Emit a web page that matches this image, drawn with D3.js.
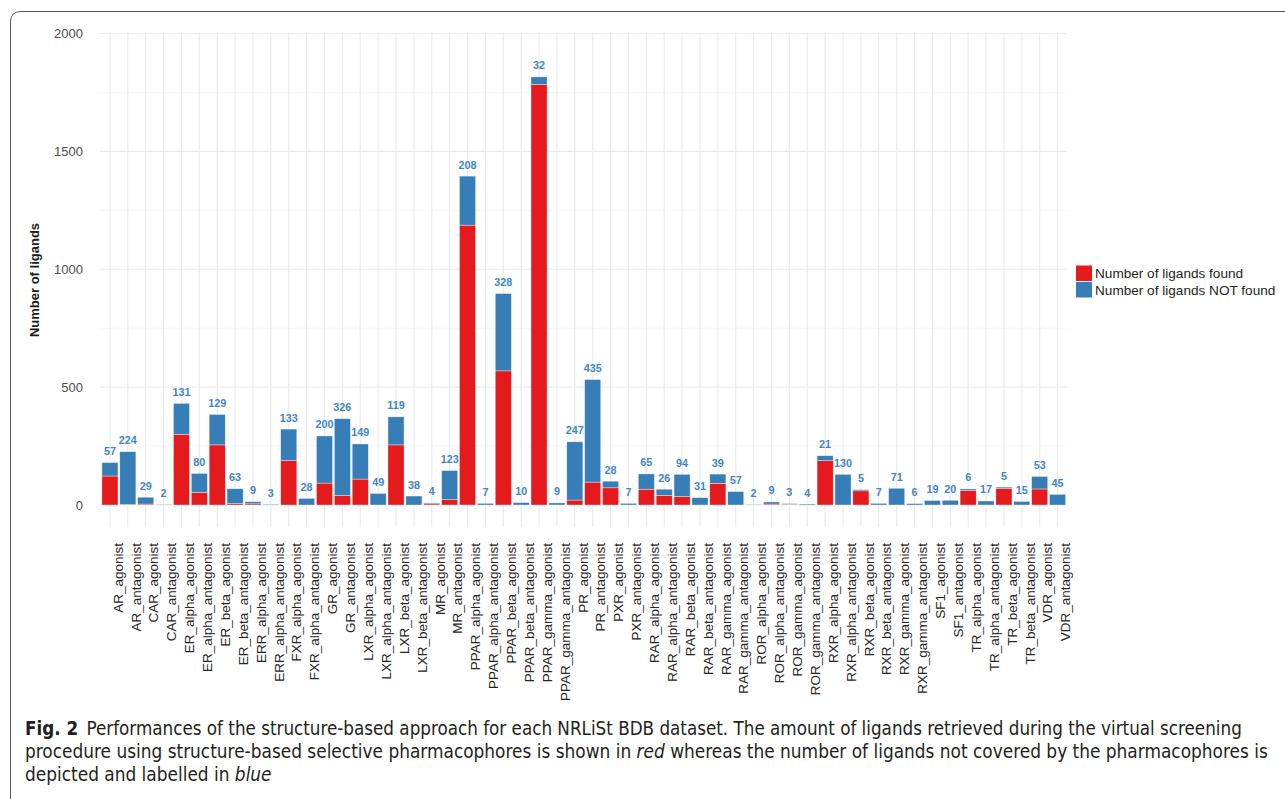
<!DOCTYPE html>
<html>
<head>
<meta charset="utf-8">
<script src="https://cdn.jsdelivr.net/npm/d3@7"></script>
<style>
  html, body { margin: 0; padding: 0; background: #fff; }
  svg { display: block; }
</style>
</head>
<body>
<svg id="chart" width="1285" height="799"></svg>
<script>
// NRLiSt BDB datasets
const categories = [
  "AR_agonist", "AR_antagonist", "CAR_agonist", "CAR_antagonist",
  "ER_alpha_agonist", "ER_alpha_antagonist", "ER_beta_agonist", "ER_beta_antagonist",
  "ERR_alpha_agonist", "ERR_alpha_antagonist", "FXR_alpha_agonist", "FXR_alpha_antagonist",
  "GR_agonist", "GR_antagonist", "LXR_alpha_agonist", "LXR_alpha_antagonist",
  "LXR_beta_agonist", "LXR_beta_antagonist", "MR_agonist", "MR_antagonist",
  "PPAR_alpha_agonist", "PPAR_alpha_antagonist", "PPAR_beta_agonist", "PPAR_beta_antagonist",
  "PPAR_gamma_agonist", "PPAR_gamma_antagonist", "PR_agonist", "PR_antagonist",
  "PXR_agonist", "PXR_antagonist", "RAR_alpha_agonist", "RAR_alpha_antagonist",
  "RAR_beta_agonist", "RAR_beta_antagonist", "RAR_gamma_agonist", "RAR_gamma_antagonist",
  "ROR_alpha_agonist", "ROR_alpha_antagonist", "ROR_gamma_agonist", "ROR_gamma_antagonist",
  "RXR_alpha_agonist", "RXR_alpha_antagonist", "RXR_beta_agonist", "RXR_beta_antagonist",
  "RXR_gamma_agonist", "RXR_gamma_antagonist", "SF1_agonist", "SF1_antagonist",
  "TR_alpha_agonist", "TR_alpha_antagonist", "TR_beta_agonist", "TR_beta_antagonist",
  "VDR_agonist", "VDR_antagonist"
];

// Ligands retrieved by the structure-based pharmacophores
const foundValues = [
  123, 2, 4, 0,
  300, 54, 255, 6,
  5, 0, 189, 0,
  93, 40, 110, 0,
  255, 0, 5, 23,
  1187, 0, 569, 0,
  1784, 0, 21, 97,
  73, 0, 67, 41,
  36, 0, 92, 0,
  0, 4, 3, 0,
  188, 0, 60, 0,
  0, 0, 0, 0,
  62, 0, 71, 0,
  68, 0
];

// Ligands not covered by the pharmacophores
const notFoundValues = [
  57, 224, 29, 2,
  131, 80, 129, 63,
  9, 3, 133, 28,
  200, 326, 149, 49,
  119, 38, 4, 123,
  208, 7, 328, 10,
  32, 9, 247, 435,
  28, 7, 65, 26,
  94, 31, 39, 57,
  2, 9, 3, 4,
  21, 130, 5, 7,
  71, 6, 19, 20,
  6, 17, 5, 15,
  53, 45
];

const yTicks = [0, 500, 1000, 1500, 2000];
const yMinorTicks = [250, 750, 1250, 1750];

const seriesNames = ["Number of ligands found", "Number of ligands NOT found"];
const seriesColors = ["#e41a1c", "#377eb8"];

const rows = categories.map((c, i) => ({
  name: c,
  found: foundValues[i],
  notFound: notFoundValues[i]
}));

const svg = d3.select("#chart");
const sans = "'Liberation Sans', Arial, sans-serif";

// Figure frame with rounded corner
svg.append("path")
  .attr("d", "M10.5,800 L10.5,22 Q10.5,11.5 21,11.5 L1290,11.5")
  .attr("fill", "none")
  .attr("stroke", "#555")
  .attr("stroke-width", 1);

const panel = { left: 100, right: 1066.5, top: 32, bottom: 527 };

const x = d3.scaleBand()
  .domain(categories)
  .range([101, 1066.5])
  .paddingInner(0.1)
  .paddingOuter(0.05);

const y = d3.scaleLinear()
  .domain([0, 2000])
  .range([505, 33.5]);

const g = svg.append("g");

// Grid: minor horizontal, major horizontal, vertical at each category
g.selectAll("line.minor")
  .data(yMinorTicks)
  .join("line")
  .attr("x1", panel.left).attr("x2", panel.right)
  .attr("y1", d => y(d)).attr("y2", d => y(d))
  .attr("stroke", "#f2f2f2").attr("stroke-width", 0.8);

g.selectAll("line.major")
  .data(yTicks)
  .join("line")
  .attr("x1", panel.left).attr("x2", panel.right)
  .attr("y1", d => y(d)).attr("y2", d => y(d))
  .attr("stroke", "#ebebeb").attr("stroke-width", 1.2);

g.selectAll("line.vgrid")
  .data(categories)
  .join("line")
  .attr("x1", d => x(d) + x.bandwidth() / 2)
  .attr("x2", d => x(d) + x.bandwidth() / 2)
  .attr("y1", panel.top).attr("y2", panel.bottom)
  .attr("stroke", "#ebebeb").attr("stroke-width", 1.2);

// Stacked bars
const stack = d3.stack().keys(["found", "notFound"]);
const layers = stack(rows);

g.selectAll("g.layer")
  .data(layers)
  .join("g")
  .attr("fill", (d, i) => seriesColors[i])
  .selectAll("rect")
  .data(d => d.filter(s => s[1] - s[0] > 0))
  .join("rect")
  .attr("x", d => x(d.data.name))
  .attr("width", x.bandwidth())
  .attr("y", d => y(d[1]))
  .attr("height", d => y(d[0]) - y(d[1]))
  .attr("stroke", "#ffffff")
  .attr("stroke-opacity", 0.6)
  .attr("stroke-width", 0.6);

// Labels for ligands not found
g.selectAll("text.lbl")
  .data(rows)
  .join("text")
  .attr("x", d => x(d.name) + x.bandwidth() / 2)
  .attr("y", d => y(d.found + d.notFound) - 7.5)
  .attr("text-anchor", "middle")
  .attr("font-family", sans)
  .attr("font-weight", "bold")
  .attr("font-size", "10.8px")
  .attr("fill", "#3f86c8")
  .text(d => d.notFound);

// Y axis
const yAxis = d3.axisLeft(y)
  .tickValues(yTicks)
  .tickFormat(d3.format("d"))
  .tickSize(0)
  .tickPadding(0);
const yg = svg.append("g")
  .attr("transform", "translate(83,0)")
  .call(yAxis);
yg.select(".domain").remove();
yg.selectAll("text")
  .attr("font-family", sans)
  .attr("font-size", "13px")
  .attr("fill", "#4d4d4d");

svg.append("text")
  .attr("transform", "translate(39,280) rotate(-90)")
  .attr("text-anchor", "middle")
  .attr("font-family", sans)
  .attr("font-weight", "bold")
  .attr("font-size", "13px")
  .attr("fill", "#1a1a1a")
  .text("Number of ligands");

// X axis (rotated category labels)
const xAxis = d3.axisBottom(x).tickSize(0).tickPadding(0);
const xg = svg.append("g")
  .attr("transform", "translate(0,543)")
  .call(xAxis);
xg.select(".domain").remove();
xg.selectAll(".tick text")
  .attr("transform", "translate(8,0) rotate(-90)")
  .attr("text-anchor", "end")
  .attr("x", 0)
  .attr("y", 0)
  .attr("dy", "0.35em")
  .attr("font-family", sans)
  .attr("font-size", "13.5px")
  .attr("fill", "#262626");

// Legend
const legend = svg.append("g").attr("transform", "translate(1076,265.5)");
seriesNames.forEach((name, i) => {
  legend.append("rect")
    .attr("x", 0).attr("y", i * 16.5)
    .attr("width", 16).attr("height", 15.5)
    .attr("fill", seriesColors[i]);
  legend.append("text")
    .attr("x", 19).attr("y", i * 16.5 + 8)
    .attr("dy", "0.35em")
    .attr("font-family", sans)
    .attr("font-size", "13.6px")
    .attr("fill", "#231f20")
    .text(name);
});

// Caption
const captionLines = [
  { baseline: 735, width: 1218, parts: [
      { t: "Fig. 2", w: "bold" },
      { t: "\u2002Performances of the structure-based approach for each NRLiSt BDB dataset. The amount of ligands retrieved during the virtual screening" }
  ]},
  { baseline: 758, width: 1243, parts: [
      { t: "procedure using structure-based selective pharmacophores is shown in " },
      { t: "red", s: "italic" },
      { t: " whereas the number of ligands not covered by the pharmacophores is" }
  ]},
  { baseline: 781, width: null, parts: [
      { t: "depicted and labelled in " },
      { t: "blue", s: "italic" }
  ]}
];

let lastScale = 1;
captionLines.forEach(line => {
  const t = svg.append("text")
    .attr("font-family", "'Liberation Sans Narrow', 'DejaVu Sans Condensed', 'Open Sans', sans-serif")
    .attr("font-size", "20px")
    .attr("fill", "#231f20")
    .attr("xml:space", "preserve");
  line.parts.forEach(p => {
    t.append("tspan")
      .attr("font-weight", p.w || "normal")
      .attr("font-style", p.s || "normal")
      .text(p.t);
  });
  let sx = lastScale;
  if (line.width) {
    const measured = t.node().getComputedTextLength();
    sx = line.width / measured;
    lastScale = sx;
  }
  t.attr("transform", `translate(25,${line.baseline}) scale(${sx},1)`);
});
</script>
</body>
</html>
